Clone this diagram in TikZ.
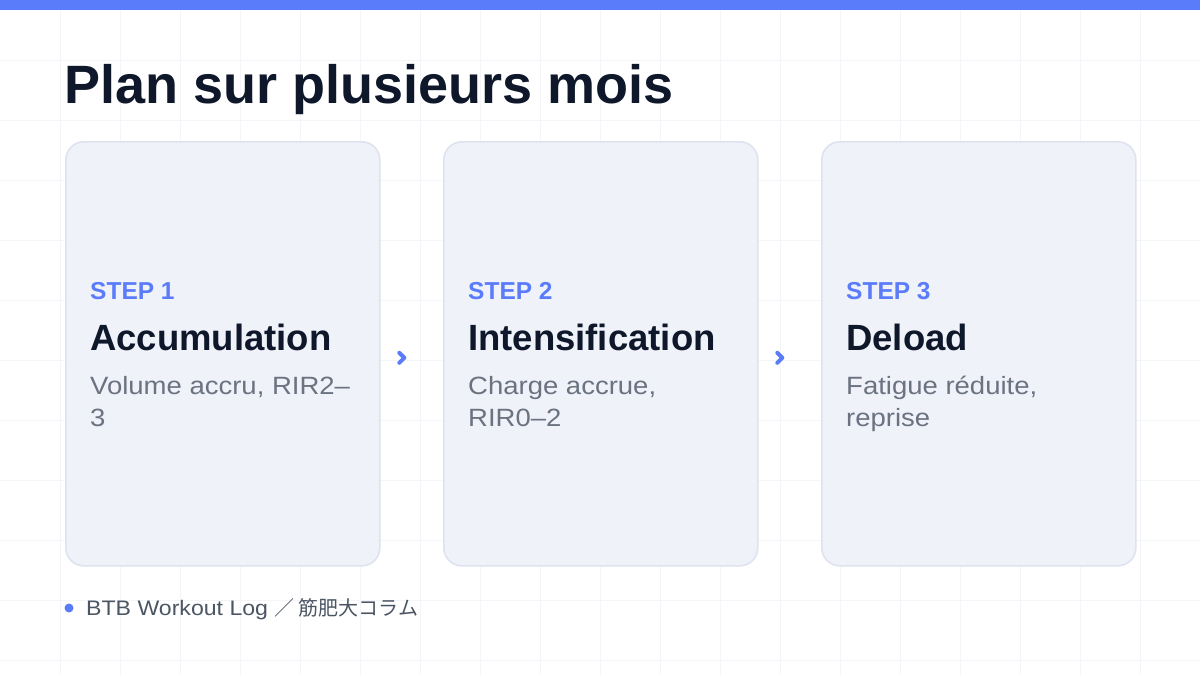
\documentclass[tikz,border=0pt]{standalone}
\usepackage{fontspec}
\setmainfont{Liberation Sans}
\newfontfamily\regfont[FakeStretch=1.1]{Liberation Sans}
\newfontfamily\cjk{Noto Sans CJK JP}
\usetikzlibrary{calc}
\definecolor{accent}{HTML}{5B7CFA}
\definecolor{ink}{HTML}{0F172A}
\definecolor{muted}{HTML}{6B7280}
\definecolor{footgrey}{HTML}{4B5563}
\definecolor{cardfill}{HTML}{F0F2FA}
\definecolor{cardline}{HTML}{DFE3EF}
\definecolor{gridc}{HTML}{F4F5F8}
\tikzset{
  card/.style={draw=cardline, line width=1.6pt, fill=cardfill, rounded corners=18pt, minimum width=314pt, minimum height=424pt, anchor=north west, inner sep=0pt},
  steplabel/.style={anchor=base west, inner sep=0pt, text=accent, font=\fontsize{24.5}{28}\selectfont\bfseries},
  cardtitle/.style={anchor=base west, inner sep=0pt, text=ink, font=\fontsize{36.5}{40}\selectfont\bfseries},
  carddesc/.style={anchor=base west, inner sep=0pt, text=muted, font=\fontsize{25}{32}\selectfont\regfont},
  chev/.style={draw=accent, line width=4pt, line join=round, line cap=round}
}
\begin{document}
\begin{tikzpicture}[x=1pt,y=-1pt]
\useasboundingbox (0,0) rectangle (1200,675);
\fill[white] (0,0) rectangle (1200,675);
\foreach \gx in {60,120,...,1140} \draw[gridc, line width=0.8pt] (\gx,0) -- (\gx,675);
\foreach \gy in {60,120,...,660} \draw[gridc, line width=0.8pt] (0,\gy) -- (1200,\gy);
\fill[accent] (0,0) rectangle (1200,10);
\node[anchor=base west, inner sep=0pt, text=ink, font=\fontsize{54}{60}\selectfont\bfseries] (title) at (64,103) {Plan sur plusieurs mois};

\node[card] (c1) at (65,141) {};
\node[card] (c2) at (443,141) {};
\node[card] (c3) at (821,141) {};

\node[steplabel] (s1) at (90,299) {STEP 1};
\node[cardtitle] (t1) at (90,350) {Accumulation};
\node[carddesc] (d1) at (90,394) {Volume accru, RIR2–};
\node[carddesc] (d1b) at (90,426) {3};

\node[steplabel] (s2) at (468,299) {STEP 2};
\node[cardtitle] (t2) at (468,350) {Intensification};
\node[carddesc] (d2) at (468,394) {Charge accrue,};
\node[carddesc] (d2b) at (468,426) {RIR0–2};

\node[steplabel] (s3) at (846,299) {STEP 3};
\node[cardtitle] (t3) at (846,350) {Deload};
\node[carddesc] (d3) at (846,394) {Fatigue réduite,};
\node[carddesc] (d3b) at (846,426) {reprise};

\coordinate (a1) at ($(c1.east)!0.5!(c2.west)+(-10,4)$);
\coordinate (a2) at ($(c2.east)!0.5!(c3.west)+(-10,4)$);
\draw[chev] ($(a1)+(-2.5,-5)$) -- ($(a1)+(2.5,0)$) -- ($(a1)+(-2.5,5)$);
\draw[chev] ($(a2)+(-2.5,-5)$) -- ($(a2)+(2.5,0)$) -- ($(a2)+(-2.5,5)$);

\fill[accent] (69,608) circle (4.5pt);
\node[anchor=base west, inner sep=0pt, text=footgrey, font=\fontsize{21}{24}\selectfont\regfont] (foot) at (86,615) {BTB Workout Log {\cjk\fontsize{20}{24}\selectfont ／ 筋肥大コラム}};
\end{tikzpicture}
\end{document}
